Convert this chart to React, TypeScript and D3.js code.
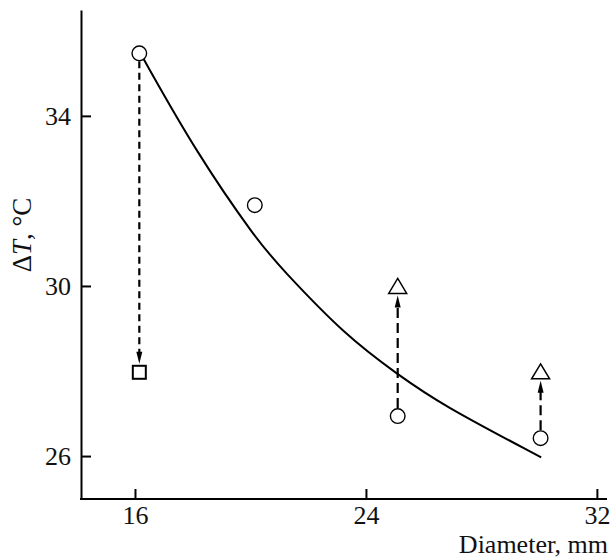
import React, { useEffect, useRef } from 'react'
import * as d3 from 'd3'

// measured points (diameter, mm / delta T, °C)
const circleD = [16.15, 20.15, 25.1, 30.05]
const circleT = [35.47, 31.9, 26.94, 26.42]
const squareD = [16.15]
const squareT = [27.97]
const triangleD = [25.1, 30.05]
const triangleT = [29.99, 27.98]

// fitted curve
const curveD = [16.28, 18.14, 20.22, 21.02, 23.34, 25.11, 26.56, 30.07]
const curveT = [35.36, 33.12, 31.08, 30.45, 28.8, 27.92, 27.23, 25.97]

// arrows: circle index -> target marker
const arrowFrom = [0, 2, 3]
const arrowToT = [27.97, 29.99, 27.98]
const arrowKind = ['square', 'triangle', 'triangle']

const xTicks = [16, 24, 32]
const yTicks = [26, 30, 34]

const FONT = '"Liberation Serif", "Times New Roman", serif'

const App = () => {
    const svgRef = useRef<SVGSVGElement>(null)

    const width = 610
    const height = 559

    useEffect(() => {
        const svg = d3.select(svgRef.current)
        svg.selectAll('*').remove()

        const x = d3.scaleLinear().domain([14.13, 32.35]).range([81, 607])
        const y = d3.scaleLinear().domain([24.99, 36.49]).range([499, 10])

        // axes
        const gx = svg.append('g')
            .attr('transform', `translate(0,${y.range()[0]})`)
            .call(d3.axisBottom(x).tickValues(xTicks).tickSizeInner(-10).tickSizeOuter(0).tickPadding(7))
        const gy = svg.append('g')
            .attr('transform', `translate(${x.range()[0]},0)`)
            .call(d3.axisLeft(y).tickValues(yTicks).tickSizeInner(-10).tickSizeOuter(0).tickPadding(10))

        for (const g of [gx, gy]) {
            g.attr('font-family', FONT).attr('font-size', 26)
            g.select('.domain').attr('stroke-width', 2)
            g.selectAll('.tick line').attr('stroke-width', 2)
            g.selectAll('.tick text').attr('fill', '#111')
        }
        gx.select('.domain').attr('d', `M${x.range()[0] - 1},0H${x.range()[1]}`)

        // curve
        const line = d3.line<number>()
            .x((d, i) => x(curveD[i]))
            .y(d => y(d))
            .curve(d3.curveBasis)
        svg.append('path')
            .attr('d', line(curveT))
            .attr('fill', 'none')
            .attr('stroke', '#000')
            .attr('stroke-width', 2)

        // dashed arrows
        const R = 8
        arrowFrom.forEach((ci, k) => {
            const cx = x(circleD[ci])
            const y0 = y(circleT[ci])
            const y1 = y(arrowToT[k])
            const dir = y1 > y0 ? 1 : -1
            const half = arrowKind[k] === 'square' ? 7.5 : 7
            const gap = arrowKind[k] === 'square' ? 1 : 2
            const tip = y1 - dir * (half + gap)
            const headLen = 12
            const start = y0 + dir * R
            svg.append('line')
                .attr('x1', cx).attr('x2', cx)
                .attr('y1', start).attr('y2', tip - dir * headLen + dir * 1)
                .attr('stroke', '#000')
                .attr('stroke-width', 2.2)
                .attr('stroke-dasharray', k === 0 ? '7,4.5' : '10,5')
            svg.append('path')
                .attr('d', `M${cx},${tip}L${cx - 3},${tip - dir * headLen}L${cx + 3},${tip - dir * headLen}Z`)
                .attr('fill', '#000')
        })

        // markers
        svg.selectAll('.circ')
            .data(circleT)
            .enter().append('circle')
            .attr('class', 'circ')
            .attr('cx', (d, i) => x(circleD[i]))
            .attr('cy', d => y(d))
            .attr('r', 7.3)
            .attr('fill', '#fff')
            .attr('stroke', '#000')
            .attr('stroke-width', 1.4)

        svg.selectAll('.sq')
            .data(squareT)
            .enter().append('rect')
            .attr('class', 'sq')
            .attr('x', (d, i) => x(squareD[i]) - 6.5)
            .attr('y', d => y(d) - 6.5)
            .attr('width', 13)
            .attr('height', 13)
            .attr('fill', '#fff')
            .attr('stroke', '#000')
            .attr('stroke-width', 2)

        svg.selectAll('.tri')
            .data(triangleT)
            .enter().append('path')
            .attr('class', 'tri')
            .attr('d', (d, i) => {
                const cx = x(triangleD[i])
                const cy = y(d)
                return `M${cx},${cy - 8}L${cx + 9},${cy + 7}L${cx - 9},${cy + 7}Z`
            })
            .attr('fill', '#fff')
            .attr('stroke', '#000')
            .attr('stroke-width', 1.5)
            .attr('stroke-linejoin', 'miter')

        // axis titles
        svg.append('text')
            .attr('x', 608)
            .attr('y', 553)
            .attr('text-anchor', 'end')
            .attr('font-family', FONT)
            .attr('font-size', 26)
            .attr('fill', '#111')
            .text('Diameter, mm')

        const yl = svg.append('text')
            .attr('transform', 'translate(31,235) rotate(-90)')
            .attr('text-anchor', 'middle')
            .attr('font-family', FONT)
            .attr('font-size', 27)
            .attr('fill', '#111')
        yl.append('tspan').text('Δ')
        yl.append('tspan').attr('font-style', 'italic').text('T')
        yl.append('tspan').text(', °C')
    }, [])

    return (
        <svg ref={svgRef} width={width} height={height}
            style={{ position: 'absolute', left: 0, top: 0, background: '#fff' }} />
    )
}

export default App
